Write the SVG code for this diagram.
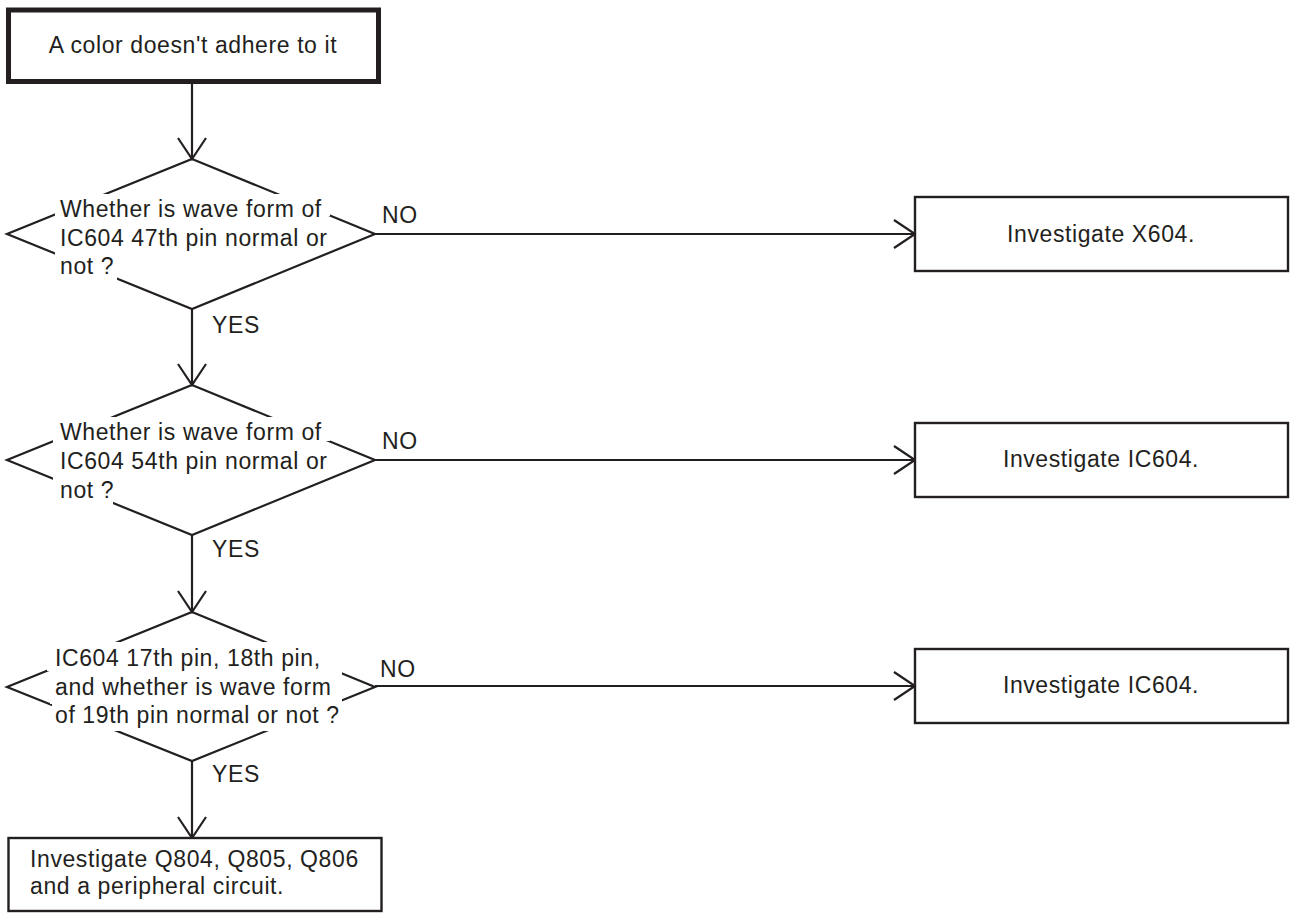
<svg xmlns="http://www.w3.org/2000/svg" width="1292" height="913" viewBox="0 0 1292 913">
<style>
text{font-family:"Liberation Sans",Arial,sans-serif;font-size:23px;letter-spacing:0.6px;fill:#231f20}
.ln{stroke:#231f20;stroke-width:2.2;fill:none}
.box{stroke:#231f20;stroke-width:2.4;fill:#fff}
.mask{fill:#fff;stroke:none}
.mid{text-anchor:middle}
</style>
<defs>
<marker id="ah" markerUnits="userSpaceOnUse" viewBox="-24 -16 26 32" markerWidth="26" markerHeight="32" refX="0" refY="0" orient="auto">
<path d="M-21,-14 L0,0 L-21,14" fill="none" stroke="#231f20" stroke-width="2.2"/>
</marker>
</defs>
<rect width="1292" height="913" fill="#fff"/>
<g id="connectors">
<line class="ln" x1="192" y1="83" x2="192" y2="159" marker-end="url(#ah)"/>
<line class="ln" x1="192" y1="309" x2="192" y2="385" marker-end="url(#ah)"/>
<line class="ln" x1="192" y1="535" x2="192" y2="612" marker-end="url(#ah)"/>
<line class="ln" x1="192" y1="761" x2="192" y2="838" marker-end="url(#ah)"/>
<line class="ln" x1="375" y1="234" x2="915" y2="234" marker-end="url(#ah)"/>
<line class="ln" x1="375" y1="460" x2="915" y2="460" marker-end="url(#ah)"/>
<line class="ln" x1="375" y1="686" x2="915" y2="686" marker-end="url(#ah)"/>
<text x="382" y="223">NO</text>
<text x="382" y="449">NO</text>
<text x="380" y="677">NO</text>
<text x="212" y="333">YES</text>
<text x="212" y="557">YES</text>
<text x="212" y="782">YES</text>
</g>
<g id="start">
<rect x="8.5" y="10" width="370" height="71.5" fill="#fff" stroke="#231f20" stroke-width="5"/>
<text class="mid" x="193" y="53">A color doesn't adhere to it</text>
</g>
<g id="decision1">
<polygon class="ln" points="192,159 375,234 192,309 7,234"/>
<rect class="mask" x="55" y="194" width="275" height="22"/>
<rect class="mask" x="55" y="215" width="270" height="38"/>
<rect class="mask" x="55" y="252" width="62" height="29"/>
<text x="60" y="216.7">Whether is wave form of</text>
<text x="60" y="245.5">IC604 47th pin normal or</text>
<text x="60" y="274">not ?</text>
</g>
<g id="decision2">
<polygon class="ln" points="192,385 375,460 192,535 7,460"/>
<rect class="mask" x="53" y="417" width="277" height="24"/>
<rect class="mask" x="53" y="440" width="272" height="38"/>
<rect class="mask" x="53" y="477" width="60" height="27"/>
<text x="60" y="440">Whether is wave form of</text>
<text x="60" y="469">IC604 54th pin normal or</text>
<text x="60" y="497.5">not ?</text>
</g>
<g id="decision3">
<polygon class="ln" points="192,612 375,687 192,761 7,687"/>
<rect class="mask" x="47" y="642" width="295" height="29"/>
<rect class="mask" x="50" y="670" width="292" height="34"/>
<rect class="mask" x="52" y="703" width="285" height="28"/>
<text x="55" y="666">IC604 17th pin, 18th pin,</text>
<text x="55" y="694.5">and whether is wave form</text>
<text x="55" y="723">of 19th pin normal or not ?</text>
</g>
<g id="result1">
<rect class="box" x="915" y="197" width="373" height="74"/>
<text class="mid" x="1101" y="242">Investigate X604.</text>
</g>
<g id="result2">
<rect class="box" x="915" y="423" width="373" height="74"/>
<text class="mid" x="1101" y="467">Investigate IC604.</text>
</g>
<g id="result3">
<rect class="box" x="915" y="649" width="373" height="74"/>
<text class="mid" x="1101" y="693">Investigate IC604.</text>
</g>
<g id="result4">
<rect class="box" x="8.5" y="838" width="373" height="73"/>
<text x="30" y="866.7">Investigate Q804, Q805, Q806</text>
<text x="30" y="894">and a peripheral circuit.</text>
</g>
</svg>
